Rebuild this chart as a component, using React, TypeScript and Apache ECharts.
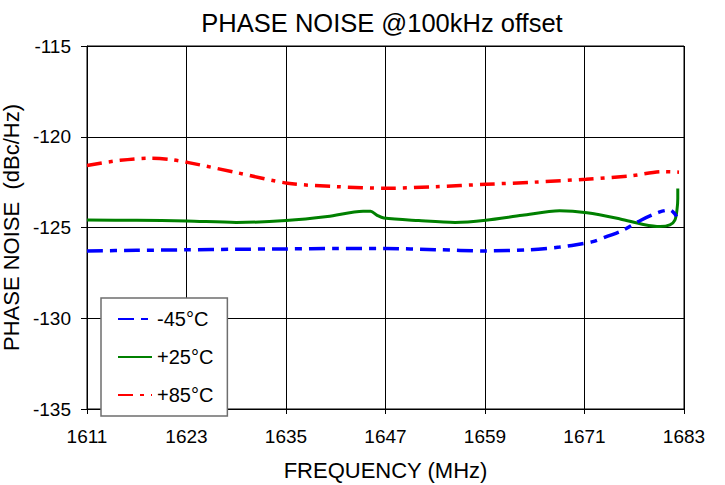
import React, { useEffect, useRef } from "react";
import * as echarts from "echarts";

const TITLE = "PHASE NOISE @100kHz offset";
const X_NAME = "FREQUENCY (MHz)";
const Y_NAME = "PHASE NOISE  (dBc/Hz)";
const X_MIN = 1611;
const X_MAX = 1683;
const X_STEP = 12;
const Y_MIN = -135;
const Y_MAX = -115;
const Y_STEP = 5;

const SERIES_NAMES = ["-45°C", "+25°C", "+85°C"];

const FREQ_M45 = [1611, 1617, 1623, 1629, 1635, 1641, 1647, 1653, 1659, 1664.5, 1668, 1670, 1672, 1673.8, 1675.7, 1677.8, 1680.1, 1681.3, 1681.9, 1682.1];
const PN_M45 = [-126.29, -126.26, -126.23, -126.2, -126.18, -126.16, -126.16, -126.22, -126.29, -126.22, -126.08, -125.95, -125.78, -125.48, -125.14, -124.6, -124.14, -124.04, -124.25, -124.4];

const FREQ_P25 = [1611, 1617, 1623, 1629, 1635, 1640, 1644.3, 1645.2, 1646.0, 1646.8, 1651, 1655.4, 1659.1, 1663.5, 1668, 1671.3, 1675.3, 1678.1, 1680.1, 1681.3, 1681.9, 1682.15, 1682.25, 1682.25];
const PN_P25 = [-124.59, -124.6, -124.64, -124.72, -124.62, -124.4, -124.1, -124.1, -124.33, -124.48, -124.62, -124.72, -124.6, -124.33, -124.08, -124.19, -124.53, -124.83, -124.95, -124.86, -124.59, -124.04, -123.4, -122.85];

const FREQ_P85 = [1611, 1615, 1618.6, 1621, 1623.1, 1629.1, 1635.2, 1641.2, 1647.2, 1653, 1659.1, 1665, 1671.2, 1676.6, 1680.5, 1682.4];
const PN_P85 = [-121.58, -121.3, -121.18, -121.25, -121.41, -121.98, -122.56, -122.75, -122.84, -122.75, -122.62, -122.5, -122.34, -122.15, -121.92, -121.95];

const FONT = "'Liberation Sans', Arial, Helvetica, sans-serif";

function pairs(fs: number[], vs: number[]) {
  return fs.map((f, i) => [f - X_MIN, vs[i]]);
}

export default function App() {
  const ref = useRef<HTMLDivElement>(null);
  useEffect(() => {
    if (!ref.current) return;
    const chart = echarts.init(ref.current, undefined, { renderer: "svg" });
    chart.setOption({
      animation: false,
      backgroundColor: "#fff",
      textStyle: { fontFamily: FONT, color: "#000" },
      title: {
        text: TITLE,
        left: 377,
        top: 5,
        textAlign: "center",
        textStyle: { fontFamily: FONT, fontSize: 25.5, fontWeight: "normal", color: "#000" },
      },
      grid: {
        left: 87,
        top: 46,
        width: 597,
        height: 363,
        show: true,
        borderColor: "#000",
        borderWidth: 1,
        backgroundColor: "transparent",
        outerBoundsMode: "none",
        containLabel: false,
      },
      legend: {
        orient: "vertical",
        left: 101,
        top: 298,
        data: SERIES_NAMES,
        itemWidth: 34,
        itemHeight: 14,
        itemGap: 18,
        padding: [11, 14, 11, 16],
        backgroundColor: "#fff",
        borderColor: "#6e6e6e",
        borderWidth: 1.5,
        itemStyle: { opacity: 0 },
        textStyle: { fontFamily: FONT, fontSize: 20, color: "#000" },
      },
      xAxis: {
        type: "value",
        min: 0,
        max: X_MAX - X_MIN,
        interval: X_STEP,
        name: X_NAME,
        nameLocation: "middle",
        nameGap: 50,
        nameTextStyle: { fontFamily: FONT, fontSize: 22, color: "#000" },
        axisLine: { show: true, lineStyle: { color: "#000", width: 1 } },
        axisTick: { show: true, length: 5, lineStyle: { color: "#000" } },
        axisLabel: {
          fontFamily: FONT,
          fontSize: 19,
          color: "#000",
          margin: 18,
          formatter: (v: number) => String(v + X_MIN),
        },
        splitLine: { show: true, lineStyle: { color: "#000", width: 1 } },
      },
      yAxis: {
        type: "value",
        min: Y_MIN,
        max: Y_MAX,
        interval: Y_STEP,
        name: Y_NAME,
        nameLocation: "middle",
        nameGap: 54,
        nameTextStyle: { fontFamily: FONT, fontSize: 22, color: "#000" },
        axisLine: { show: true, lineStyle: { color: "#000", width: 1 } },
        axisTick: { show: true, length: 6, lineStyle: { color: "#000" } },
        axisLabel: { fontFamily: FONT, fontSize: 19, color: "#000", margin: 16 },
        splitLine: { show: true, lineStyle: { color: "#000", width: 1 } },
      },
      series: [
        {
          name: SERIES_NAMES[0],
          type: "line",
          symbol: "none",
          smooth: 0.3,
          data: pairs(FREQ_M45, PN_M45),
          lineStyle: { color: "#0000ff", width: 3.5, type: [16, 7, 7, 7] },
          itemStyle: { color: "#0000ff" },
          z: 3,
        },
        {
          name: SERIES_NAMES[1],
          type: "line",
          symbol: "none",
          smooth: 0.3,
          data: pairs(FREQ_P25, PN_P25),
          lineStyle: { color: "#008000", width: 3, type: "solid" },
          itemStyle: { color: "#008000" },
          z: 2,
        },
        {
          name: SERIES_NAMES[2],
          type: "line",
          symbol: "none",
          smooth: 0.3,
          data: pairs(FREQ_P85, PN_P85),
          lineStyle: { color: "#ff0000", width: 3.5, type: [15, 7, 4, 7] },
          itemStyle: { color: "#ff0000" },
          z: 2,
        },
      ],
    });
    return () => chart.dispose();
  }, []);
  return (
    <div
      ref={ref}
      style={{ position: "fixed", left: 0, top: 0, width: 725, height: 485, background: "#fff" }}
    />
  );
}
